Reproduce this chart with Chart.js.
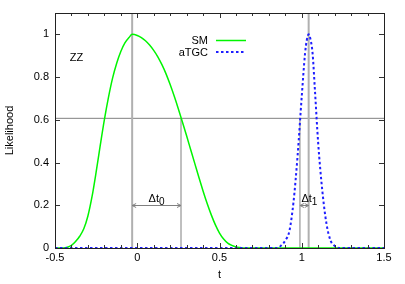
<!DOCTYPE html>
<html>
<head>
<meta charset="utf-8">
<script src="https://cdn.jsdelivr.net/npm/chart.js@4.4.1/dist/chart.umd.min.js"></script>
<style>
html, body { margin: 0; padding: 0; background: #fff; }
#wrap { width: 405px; height: 284px; }
</style>
</head>
<body>
<div id="wrap"><canvas id="myChart"></canvas></div>
<script>
// SM (ZZ) likelihood
const smT = [-0.5, -0.45, -0.42, -0.4, -0.375, -0.35, -0.325, -0.3, -0.275, -0.25, -0.225, -0.2, -0.175, -0.15, -0.125, -0.1, -0.075, -0.05, -0.031, 0, 0.025, 0.05, 0.075, 0.1, 0.125, 0.15, 0.175, 0.2, 0.225, 0.25, 0.275, 0.3, 0.325, 0.35, 0.375, 0.4, 0.425, 0.45, 0.475, 0.5, 0.525, 0.55, 0.575, 0.6, 0.625, 0.65, 0.7, 1.5];
const smL = [0, 0, 0.005, 0.012, 0.03, 0.055, 0.09, 0.15, 0.24, 0.355, 0.48, 0.6, 0.705, 0.795, 0.865, 0.92, 0.96, 0.985, 1.0, 0.995, 0.985, 0.97, 0.95, 0.925, 0.895, 0.858, 0.815, 0.765, 0.71, 0.651, 0.589, 0.525, 0.46, 0.395, 0.33, 0.267, 0.208, 0.155, 0.108, 0.07, 0.042, 0.023, 0.012, 0.005, 0.002, 0, 0, 0];

// aTGC likelihood
const tgcT = [-0.5, 0.85, 0.875, 0.9, 0.925, 0.95, 0.975, 1.0, 1.02, 1.03, 1.042, 1.055, 1.066, 1.08, 1.1, 1.125, 1.15, 1.175, 1.2, 1.225, 1.5];
const tgcL = [0, 0, 0.012, 0.035, 0.08, 0.216, 0.435, 0.71, 0.91, 0.97, 1.0, 0.97, 0.91, 0.74, 0.49, 0.268, 0.115, 0.035, 0.01, 0, 0];

// marker lines
const peakT = [-0.031, 1.042];
const cutT = [0.266, 0.989];
const cutLevel = 0.607;
const arrowLevel = 0.2;
const deltaLabels = ['0', '1'];

const seriesNames = ['SM', 'aTGC'];

const toPts = (xs, ys) => xs.map((x, i) => ({ x: x, y: ys[i] }));

const greenCol = 'rgb(0,245,0)';
const blueCol = 'rgb(30,30,255)';

const refLines = [];
peakT.forEach(t => {
    refLines.push({
        data: [{ x: t, y: 0 }, { x: t, y: 1.1 }],
        borderColor: '#b0b0b0', borderWidth: 2, pointRadius: 0, label: ''
    });
});
cutT.forEach(t => {
    refLines.push({
        data: [{ x: t, y: 0 }, { x: t, y: cutLevel }],
        borderColor: '#808080', borderWidth: 1, pointRadius: 0, label: ''
    });
});
refLines.push({
    data: [{ x: -0.5, y: cutLevel }, { x: 1.5, y: cutLevel }],
    borderColor: '#808080', borderWidth: 1, pointRadius: 0, label: ''
});

const fontFam = "'Liberation Sans', Arial, sans-serif";
Chart.defaults.font.family = fontFam;
Chart.defaults.font.size = 11;
Chart.defaults.color = '#000';

const decor = {
    id: 'decor',
    afterDatasetsDraw(chart) {
        const ctx = chart.ctx;
        const a = chart.chartArea;
        const xs = chart.scales.x, ys = chart.scales.y;
        ctx.save();

        // ticks, inward and mirrored
        ctx.strokeStyle = '#333';
        ctx.lineWidth = 1;
        ctx.beginPath();
        xs.ticks.forEach(tk => {
            const px = Math.round(xs.getPixelForValue(tk.value)) + 0.5;
            const len = tk.label !== '' ? 5 : 3;
            ctx.moveTo(px, a.bottom); ctx.lineTo(px, a.bottom - len);
            ctx.moveTo(px, a.top); ctx.lineTo(px, a.top + len);
        });
        ys.ticks.forEach(tk => {
            const py = Math.round(ys.getPixelForValue(tk.value)) + 0.5;
            ctx.moveTo(a.left, py); ctx.lineTo(a.left + 5, py);
            ctx.moveTo(a.right, py); ctx.lineTo(a.right - 5, py);
        });
        ctx.stroke();

        // frame
        ctx.strokeStyle = '#222';
        ctx.strokeRect(Math.round(a.left) + 0.5, Math.round(a.top) + 0.5,
            Math.round(a.right - a.left), Math.round(a.bottom - a.top));

        // double arrows between peak and cut
        ctx.strokeStyle = '#808080';
        ctx.fillStyle = '#000';
        const ay = Math.round(ys.getPixelForValue(arrowLevel)) + 0.5;
        const arrows = [[peakT[0], cutT[0]], [cutT[1], peakT[1]]];
        arrows.forEach((pr, i) => {
            const x1 = xs.getPixelForValue(pr[0]);
            const x2 = xs.getPixelForValue(pr[1]);
            ctx.beginPath();
            ctx.moveTo(x1, ay); ctx.lineTo(x2, ay);
            ctx.moveTo(x1 + 4, ay - 2); ctx.lineTo(x1, ay); ctx.lineTo(x1 + 4, ay + 2);
            ctx.moveTo(x2 - 4, ay - 2); ctx.lineTo(x2, ay); ctx.lineTo(x2 - 4, ay + 2);
            ctx.stroke();

            const main = '\u0394t';
            ctx.font = '11px ' + fontFam;
            const w1 = ctx.measureText(main).width;
            ctx.font = '10px ' + fontFam;
            const w2 = ctx.measureText(deltaLabels[i]).width;
            let lx;
            if (i === 0) lx = (x1 + x2) / 2 - (w1 + w2) / 2;
            else lx = x1 + 1.5;
            ctx.textAlign = 'left';
            ctx.textBaseline = 'alphabetic';
            ctx.font = '11px ' + fontFam;
            ctx.fillText(main, lx, ay - 4);
            ctx.font = '10px ' + fontFam;
            ctx.fillText(deltaLabels[i], lx + w1, ay - 1);
        });

        // process label
        ctx.font = '11px ' + fontFam;
        ctx.textBaseline = 'middle';
        ctx.fillText('ZZ', xs.getPixelForValue(-0.41), ys.getPixelForValue(0.89));

        // legend
        const legY = [40.5, 52];
        const cols = [greenCol, blueCol];
        seriesNames.forEach((nm, i) => {
            ctx.textAlign = 'right';
            ctx.fillStyle = '#000';
            ctx.fillText(nm, 208, legY[i] + 0.5);
            ctx.strokeStyle = cols[i];
            ctx.lineWidth = i === 0 ? 1.5 : 2;
            ctx.setLineDash(i === 0 ? [] : [2.5, 2.5]);
            ctx.beginPath();
            ctx.moveTo(216, legY[i]); ctx.lineTo(246, legY[i]);
            ctx.stroke();
        });
        ctx.restore();
    }
};

const config = {
    type: 'line',
    data: {
        datasets: [
            {
                label: seriesNames[1],
                data: toPts(tgcT, tgcL),
                borderColor: blueCol,
                borderWidth: 2,
                borderDash: [2.5, 2.5],
                pointRadius: 0,
                cubicInterpolationMode: 'monotone'
            },
            {
                label: seriesNames[0],
                data: toPts(smT, smL),
                borderColor: greenCol,
                borderWidth: 1.5,
                pointRadius: 0,
                cubicInterpolationMode: 'monotone'
            }
        ].concat(refLines)
    },
    options: {
        responsive: true,
        maintainAspectRatio: false,
        animation: false,
        layout: { padding: { top: 13, right: 21, left: 0, bottom: 0 } },
        plugins: { legend: { display: false }, tooltip: { enabled: false } },
        scales: {
            x: {
                type: 'linear',
                min: -0.5, max: 1.5,
                grid: { display: false, drawTicks: false },
                border: { display: false },
                afterFit: s => { s.height = 36; },
                ticks: {
                    stepSize: 0.1,
                    includeBounds: false,
                    autoSkip: false,
                    maxRotation: 0,
                    padding: 3,
                    callback: v => {
                        const r = Math.round(v * 10) / 10;
                        return Math.abs(r * 2 - Math.round(r * 2)) < 1e-6 ? String(r) : '';
                    }
                },
                title: { display: true, text: 't', padding: { top: 0, bottom: 2 } }
            },
            y: {
                min: 0, max: 1.1,
                grid: { display: false, drawTicks: false },
                border: { display: false },
                afterFit: s => { s.width = 55; },
                ticks: {
                    stepSize: 0.2,
                    includeBounds: false,
                    padding: 6,
                    callback: v => String(Math.round(v * 10) / 10)
                },
                title: { display: true, text: 'Likelihood', padding: { top: 3, bottom: 0 } }
            }
        }
    },
    plugins: [decor]
};

var myChart = new Chart(document.getElementById('myChart'), config);
</script>
</body>
</html>
